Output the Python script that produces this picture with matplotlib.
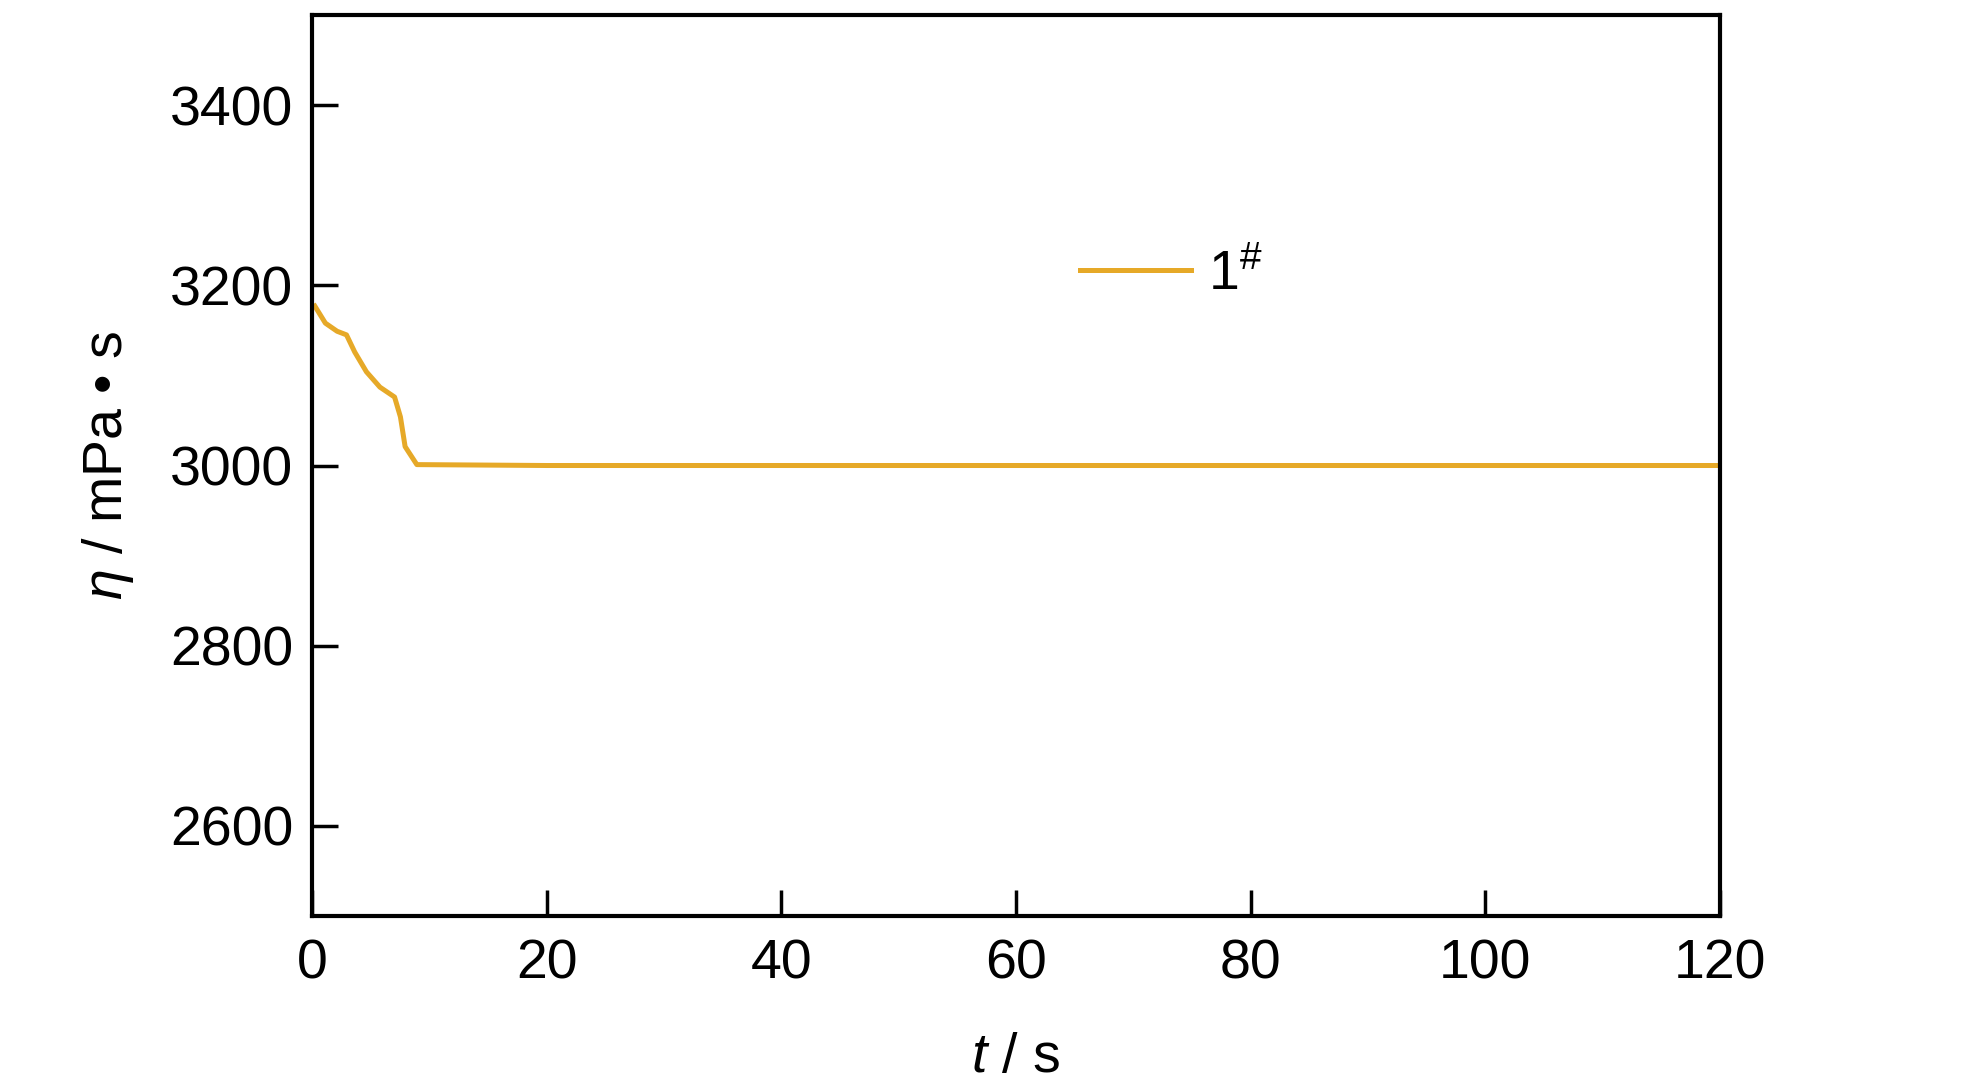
import matplotlib
matplotlib.use("Agg")
import matplotlib.pyplot as plt

plt.rcParams['font.family'] = ['Liberation Sans', 'DejaVu Sans']
plt.rcParams['mathtext.fontset'] = 'custom'
plt.rcParams['mathtext.rm'] = 'Liberation Sans'
plt.rcParams['mathtext.it'] = 'Liberation Sans:italic'

# data
t = [0.2, 1.1, 2.1, 2.9, 3.6, 4.6, 5.75, 7.0, 7.5, 7.9, 8.9, 20, 40, 60, 80, 100, 120]
eta = [3177, 3158, 3149, 3145, 3126, 3104, 3087, 3076, 3054, 3021, 3001,
       3000, 3000, 3000, 3000, 3000, 3000]
series_label = r'1$^{\#}$'
xticks = [0, 20, 40, 60, 80, 100, 120]
yticks = [2600, 2800, 3000, 3200, 3400]

fs = 40

fig = plt.figure(figsize=(19.84, 10.87), dpi=100)
ax = fig.add_axes([0.1575, 0.1573, 0.8667 - 0.1575, 0.9862 - 0.1573])

ax.plot(t, eta, color='#E6A928', lw=3.6, label=series_label)

ax.set_xlim(0, 120)
ax.set_ylim(2500, 3500)
ax.set_xticks(xticks)
ax.set_yticks(yticks)

for s in ax.spines.values():
    s.set_linewidth(3)
ax.tick_params(axis='both', which='major', direction='in', length=19, width=2.5,
               labelsize=fs, top=False, right=False)
ax.tick_params(axis='x', pad=16)
ax.tick_params(axis='y', pad=14)

ax.set_xlabel(r'$\mathit{t}$ / s', fontsize=fs, labelpad=30)
ax.set_ylabel('$\\mathit{η}$ / mPa \u2022 s', fontsize=fs, labelpad=24)

leg = ax.legend(loc='upper left', bbox_to_anchor=(0.51, 0.795), frameon=False,
                fontsize=fs, handlelength=2.0, handletextpad=0.3)

fig.savefig('out.png', dpi=100)
